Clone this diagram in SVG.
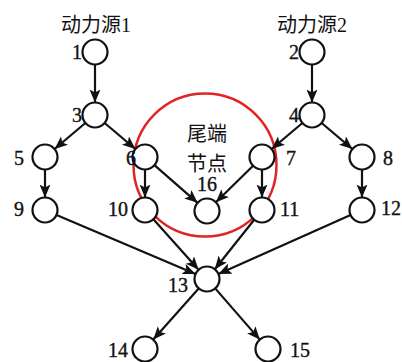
<svg xmlns="http://www.w3.org/2000/svg" width="402" height="362" viewBox="0 0 402 362">
<style>
.n{fill:#fff;stroke:#111;stroke-width:2.2}
.e{stroke:#111;stroke-width:2.2;fill:none;marker-end:url(#ah)}
.t{font-family:"Liberation Serif","Noto Sans CJK SC",serif;font-size:20px;fill:#111;stroke:#111;stroke-width:0.35}
.c{font-family:"Liberation Serif","Noto Sans CJK SC",serif;font-size:20px;fill:#111;text-anchor:middle}
.d{font-family:"Liberation Serif",serif;font-size:20px;fill:#111;stroke:#111;stroke-width:0.35;text-anchor:middle}
</style>
<defs>
<marker id="ah" markerUnits="userSpaceOnUse" markerWidth="14" markerHeight="12" refX="13" refY="5.5" orient="auto">
<path d="M0,0 L13,5.5 L0,11 L3,5.5 z" fill="#111"/>
</marker>
</defs>
<rect width="402" height="362" fill="#fff"/>
<g id="tail">
<circle cx="205" cy="165" r="71.5" fill="none" stroke="#e02424" stroke-width="2.5"/>
<text class="c" x="207" y="141">尾端</text>
<text class="c" x="207" y="171">节点</text>
</g>
<g id="connectors">
<line class="e" x1="95" y1="64.5" x2="95" y2="102.5"/>
<line class="e" x1="85.4" y1="123" x2="54.6" y2="149"/>
<line class="e" x1="104.6" y1="123" x2="135.4" y2="149"/>
<line class="e" x1="45" y1="169.5" x2="45" y2="197.5"/>
<line class="e" x1="145" y1="169.5" x2="145" y2="197.5"/>
<line class="e" x1="154.4" y1="165.2" x2="197.6" y2="202.8"/>
<line class="e" x1="312" y1="64.5" x2="312" y2="102.5"/>
<line class="e" x1="302.4" y1="123" x2="271.6" y2="149"/>
<line class="e" x1="321.6" y1="123" x2="352.4" y2="149"/>
<line class="e" x1="253.1" y1="165.8" x2="215.9" y2="202.2"/>
<line class="e" x1="262" y1="169.5" x2="262" y2="197.5"/>
<line class="e" x1="362" y1="169.5" x2="362" y2="197.5"/>
<line class="e" x1="56.5" y1="214.9" x2="195.5" y2="274.1"/>
<line class="e" x1="153.4" y1="219.3" x2="198.6" y2="269.7"/>
<line class="e" x1="254.2" y1="219.8" x2="214.8" y2="269.2"/>
<line class="e" x1="350.6" y1="215.1" x2="218.4" y2="273.9"/>
<line class="e" x1="198.7" y1="288.4" x2="153.3" y2="339.6"/>
<line class="e" x1="215.2" y1="288.4" x2="259.8" y2="339.6"/>
</g>
<g id="source1"><text class="c" x="96" y="32">动力源1</text></g>
<g id="source2"><text class="c" x="312" y="32">动力源2</text></g>
<g id="n1"><circle class="n" cx="95" cy="52" r="12.5"/><text class="t" x="82" y="59" text-anchor="end">1</text></g>
<g id="n2"><circle class="n" cx="312" cy="52" r="12.5"/><text class="t" x="299" y="59" text-anchor="end">2</text></g>
<g id="n3"><circle class="n" cx="95" cy="115" r="12.5"/><text class="t" x="82" y="122" text-anchor="end">3</text></g>
<g id="n4"><circle class="n" cx="312" cy="115" r="12.5"/><text class="t" x="299" y="122" text-anchor="end">4</text></g>
<g id="n5"><circle class="n" cx="45" cy="157" r="12.5"/><text class="t" x="24" y="165" text-anchor="end">5</text></g>
<g id="n6"><circle class="n" cx="145" cy="157" r="12.5"/><text class="t" x="136" y="165" text-anchor="end">6</text></g>
<g id="n7"><circle class="n" cx="262" cy="157" r="12.5"/><text class="t" x="286" y="165">7</text></g>
<g id="n8"><circle class="n" cx="362" cy="157" r="12.5"/><text class="t" x="383" y="165">8</text></g>
<g id="n9"><circle class="n" cx="45" cy="210" r="12.5"/><text class="t" x="24" y="216" text-anchor="end">9</text></g>
<g id="n10"><circle class="n" cx="145" cy="210" r="12.5"/><text class="t" x="128" y="216" text-anchor="end">10</text></g>
<g id="n11"><circle class="n" cx="262" cy="210" r="12.5"/><text class="t" x="280" y="216">11</text></g>
<g id="n12"><circle class="n" cx="362" cy="210" r="12.5"/><text class="t" x="381" y="215">12</text></g>
<g id="n16"><circle class="n" cx="207" cy="211" r="12.5"/><text class="d" x="207" y="191">16</text></g>
<g id="n13"><circle class="n" cx="207" cy="279" r="12.5"/><text class="t" x="188" y="292" text-anchor="end">13</text></g>
<g id="n14"><circle class="n" cx="145" cy="349" r="12.5"/><text class="t" x="128" y="357" text-anchor="end">14</text></g>
<g id="n15"><circle class="n" cx="268" cy="349" r="12.5"/><text class="t" x="290" y="357">15</text></g>
</svg>
